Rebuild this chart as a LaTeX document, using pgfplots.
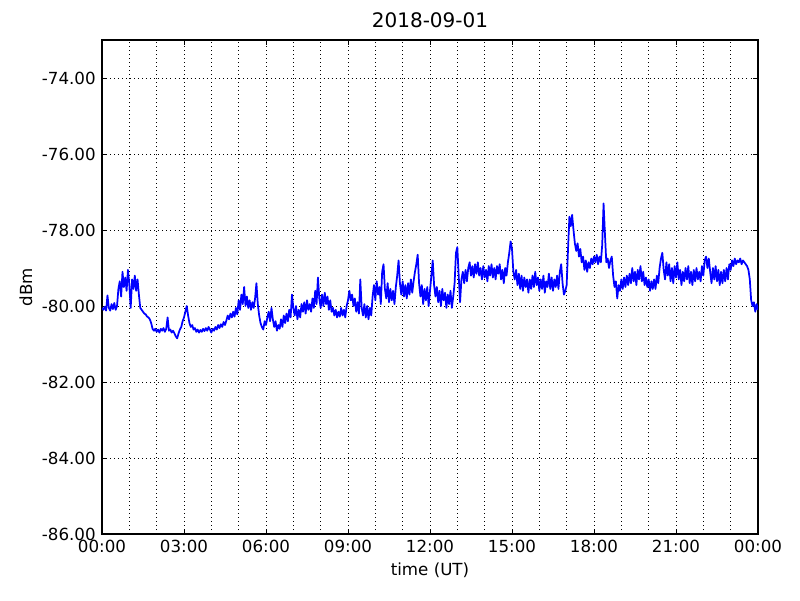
\documentclass[border=0pt]{standalone}
\usepackage{fontspec}
\setmainfont{DejaVu Sans}
\usepackage{pgfplots}
\pgfplotsset{compat=1.18}
\begin{document}
\begin{tikzpicture}
\begin{axis}[
  name=ax,
  scale only axis,
  width=472.3pt, height=355.7pt,
  xmin=0, xmax=24, ymin=-86, ymax=-73,
  axis line style={line width=0.8pt, black},
  xtick={0,3,6,9,12,15,18,21,24},
  xticklabels={00:00,03:00,06:00,09:00,12:00,15:00,18:00,21:00,00:00},
  minor xtick={1,2,4,5,7,8,10,11,13,14,16,17,19,20,22,23},
  ytick={-86,-84,-82,-80,-78,-76,-74},
  yticklabels={-86.00,-84.00,-82.00,-80.00,-78.00,-76.00,-74.00},
  tick align=inside,
  major tick length=3.5pt,
  minor tick length=0pt,
  tick style={black, line width=0.6pt},
  xmajorgrids, ymajorgrids, xminorgrids,
  major grid style={black, line width=0.5pt, dash pattern=on 0.7pt off 2.2pt},
  minor grid style={black, line width=0.5pt, dash pattern=on 0.7pt off 2.2pt},
  ticklabel style={font=\fontsize{12}{14}\selectfont},
  label style={font=\fontsize{12}{14}\selectfont},
  title style={font=\fontsize{14.4}{17}\selectfont, yshift=-1pt},
  title={2018-09-01},
  xlabel={time (UT)},
  ylabel={dBm},
  xticklabel style={yshift=-1pt},
  yticklabel style={xshift=-1pt},
]
\addplot[color={rgb,1:red,0;green,0;blue,1}, line width=1.25pt, line join=round, mark=none] coordinates {
(0.00,-80.05)(0.05,-80.10)(0.10,-80.02)(0.15,-80.12)(0.20,-79.72)(0.25,-80.05)(0.30,-80.12)(0.35,-79.95)(0.40,-80.08)(0.45,-79.92)
(0.50,-80.10)(0.55,-80.00)(0.60,-79.55)(0.65,-79.35)(0.70,-79.75)(0.75,-79.10)(0.80,-79.50)(0.85,-79.25)(0.90,-79.60)(0.95,-79.05)
(1.00,-79.45)(1.05,-80.05)(1.10,-79.30)(1.15,-79.55)(1.20,-79.20)(1.25,-79.60)(1.30,-79.30)(1.35,-79.70)(1.40,-80.05)(1.45,-80.10)
(1.50,-80.15)(1.55,-80.20)(1.60,-80.22)(1.65,-80.28)(1.70,-80.30)(1.75,-80.35)(1.80,-80.45)(1.85,-80.60)(1.90,-80.65)(1.95,-80.60)
(2.00,-80.68)(2.05,-80.62)(2.10,-80.70)(2.15,-80.60)(2.20,-80.65)(2.25,-80.58)(2.30,-80.68)(2.35,-80.60)(2.40,-80.30)(2.45,-80.65)
(2.50,-80.62)(2.55,-80.70)(2.60,-80.65)(2.65,-80.72)(2.70,-80.80)(2.75,-80.85)(2.80,-80.72)(2.85,-80.62)(2.90,-80.55)(2.95,-80.40)
(3.00,-80.30)(3.05,-80.15)(3.10,-80.00)(3.15,-80.25)(3.20,-80.45)(3.25,-80.55)(3.30,-80.50)(3.35,-80.62)(3.40,-80.58)(3.45,-80.68)
(3.50,-80.62)(3.55,-80.70)(3.60,-80.63)(3.65,-80.68)(3.70,-80.60)(3.75,-80.66)(3.80,-80.58)(3.85,-80.65)(3.90,-80.55)(3.95,-80.62)
(4.00,-80.70)(4.05,-80.60)(4.10,-80.65)(4.15,-80.55)(4.20,-80.62)(4.25,-80.50)(4.30,-80.58)(4.35,-80.48)(4.40,-80.55)(4.45,-80.42)
(4.50,-80.50)(4.55,-80.38)(4.60,-80.25)(4.65,-80.35)(4.70,-80.20)(4.75,-80.30)(4.80,-80.15)(4.85,-80.28)(4.90,-80.05)(4.95,-80.22)
(5.00,-79.85)(5.05,-80.10)(5.10,-79.70)(5.15,-79.95)(5.20,-79.50)(5.25,-80.00)(5.30,-79.75)(5.35,-80.05)(5.40,-79.85)(5.45,-80.10)
(5.50,-79.90)(5.55,-80.05)(5.60,-79.80)(5.65,-79.40)(5.70,-79.95)(5.75,-80.25)(5.80,-80.45)(5.85,-80.55)(5.90,-80.62)(5.95,-80.40)
(6.00,-80.50)(6.05,-80.30)(6.10,-80.15)(6.15,-80.40)(6.20,-80.05)(6.25,-80.35)(6.30,-80.55)(6.35,-80.40)(6.40,-80.65)(6.45,-80.50)
(6.50,-80.60)(6.55,-80.35)(6.60,-80.55)(6.65,-80.25)(6.70,-80.45)(6.75,-80.20)(6.80,-80.40)(6.85,-80.10)(6.90,-80.30)(6.95,-79.70)
(7.00,-80.05)(7.05,-80.25)(7.10,-80.00)(7.15,-80.35)(7.20,-80.10)(7.25,-80.30)(7.30,-79.95)(7.35,-80.15)(7.40,-79.90)(7.45,-80.20)
(7.50,-79.85)(7.55,-80.10)(7.60,-79.95)(7.65,-80.15)(7.70,-79.80)(7.75,-80.05)(7.80,-79.60)(7.85,-79.95)(7.90,-79.25)(7.95,-79.80)
(8.00,-80.05)(8.05,-79.70)(8.10,-80.00)(8.15,-79.65)(8.20,-79.95)(8.25,-79.75)(8.30,-80.10)(8.35,-79.85)(8.40,-80.15)(8.45,-80.05)
(8.50,-80.25)(8.55,-80.10)(8.60,-80.30)(8.65,-80.15)(8.70,-80.28)(8.75,-80.05)(8.80,-80.25)(8.85,-80.10)(8.90,-80.30)(8.95,-80.00)
(9.00,-79.85)(9.05,-79.60)(9.10,-79.85)(9.15,-79.70)(9.20,-80.00)(9.25,-79.80)(9.30,-80.15)(9.35,-79.90)(9.40,-80.20)(9.45,-79.30)
(9.50,-80.05)(9.55,-80.25)(9.60,-79.95)(9.65,-80.30)(9.70,-80.00)(9.75,-80.35)(9.80,-80.05)(9.85,-80.25)(9.90,-79.75)(9.95,-79.45)
(10.00,-79.85)(10.05,-79.35)(10.10,-79.70)(10.15,-79.50)(10.20,-79.95)(10.25,-79.10)(10.30,-78.90)(10.35,-79.55)(10.40,-79.80)(10.45,-79.40)
(10.50,-79.90)(10.55,-79.55)(10.60,-79.85)(10.65,-79.60)(10.70,-79.95)(10.75,-79.50)(10.80,-79.20)(10.85,-78.80)(10.90,-79.40)(10.95,-79.70)
(11.00,-79.35)(11.05,-79.75)(11.10,-79.45)(11.15,-79.80)(11.20,-79.40)(11.25,-79.70)(11.30,-79.30)(11.35,-79.65)(11.40,-79.35)(11.45,-79.10)
(11.50,-78.90)(11.55,-78.65)(11.60,-79.40)(11.65,-79.75)(11.70,-79.45)(11.75,-79.95)(11.80,-79.55)(11.85,-79.85)(11.90,-79.50)(11.95,-80.00)
(12.00,-79.60)(12.05,-79.20)(12.10,-78.80)(12.15,-79.45)(12.20,-79.75)(12.25,-79.50)(12.30,-79.90)(12.35,-79.60)(12.40,-80.00)(12.45,-79.55)
(12.50,-79.85)(12.55,-79.65)(12.60,-80.05)(12.65,-79.70)(12.70,-79.95)(12.75,-79.60)(12.80,-80.05)(12.85,-79.75)(12.90,-79.40)(12.95,-78.60)
(13.00,-78.45)(13.05,-79.20)(13.10,-79.90)(13.15,-79.30)(13.20,-79.10)(13.25,-79.40)(13.30,-79.05)(13.35,-79.35)(13.40,-79.00)(13.45,-78.85)
(13.50,-79.20)(13.55,-78.95)(13.60,-79.25)(13.65,-78.90)(13.70,-79.15)(13.75,-78.85)(13.80,-79.20)(13.85,-79.00)(13.90,-79.30)(13.95,-78.95)
(14.00,-79.25)(14.05,-79.05)(14.10,-79.35)(14.15,-78.95)(14.20,-79.20)(14.25,-78.90)(14.30,-79.25)(14.35,-79.00)(14.40,-79.30)(14.45,-78.95)
(14.50,-79.15)(14.55,-78.90)(14.60,-79.30)(14.65,-79.05)(14.70,-79.40)(14.75,-79.00)(14.80,-79.20)(14.85,-78.85)(14.90,-78.60)(14.95,-78.30)
(15.00,-78.50)(15.05,-79.10)(15.10,-79.30)(15.15,-79.05)(15.20,-79.45)(15.25,-79.15)(15.30,-79.55)(15.35,-79.20)(15.40,-79.60)(15.45,-79.25)
(15.50,-79.50)(15.55,-79.30)(15.60,-79.65)(15.65,-79.30)(15.70,-79.55)(15.75,-79.20)(15.80,-79.50)(15.85,-79.10)(15.90,-79.45)(15.95,-79.25)
(16.00,-79.60)(16.05,-79.30)(16.10,-79.55)(16.15,-79.20)(16.20,-79.65)(16.25,-79.35)(16.30,-79.50)(16.35,-79.15)(16.40,-79.55)(16.45,-79.25)
(16.50,-79.60)(16.55,-79.30)(16.60,-79.50)(16.65,-79.20)(16.70,-79.55)(16.75,-79.10)(16.80,-78.90)(16.85,-79.40)(16.90,-79.70)(16.95,-79.60)
(17.00,-79.45)(17.05,-78.50)(17.10,-77.65)(17.15,-77.90)(17.20,-77.60)(17.25,-78.00)(17.30,-78.35)(17.35,-78.55)(17.40,-78.35)(17.45,-78.70)
(17.50,-78.50)(17.55,-78.85)(17.60,-78.70)(17.65,-79.05)(17.70,-78.80)(17.75,-79.10)(17.80,-78.85)(17.85,-79.00)(17.90,-78.75)(17.95,-78.90)
(18.00,-78.70)(18.05,-78.85)(18.10,-78.65)(18.15,-78.90)(18.20,-78.70)(18.25,-78.85)(18.30,-78.40)(18.35,-77.30)(18.40,-78.10)(18.45,-78.85)
(18.50,-78.75)(18.55,-79.00)(18.60,-78.80)(18.65,-78.70)(18.70,-79.20)(18.75,-79.50)(18.80,-79.35)(18.85,-79.80)(18.90,-79.45)(18.95,-79.60)
(19.00,-79.30)(19.05,-79.55)(19.10,-79.25)(19.15,-79.50)(19.20,-79.20)(19.25,-79.45)(19.30,-79.15)(19.35,-79.40)(19.40,-79.00)(19.45,-79.35)
(19.50,-79.10)(19.55,-79.45)(19.60,-79.05)(19.65,-79.30)(19.70,-78.95)(19.75,-79.35)(19.80,-79.10)(19.85,-79.45)(19.90,-79.25)(19.95,-79.50)
(20.00,-79.30)(20.05,-79.60)(20.10,-79.35)(20.15,-79.55)(20.20,-79.30)(20.25,-79.55)(20.30,-79.20)(20.35,-79.40)(20.40,-79.00)(20.45,-78.75)
(20.50,-78.60)(20.55,-79.05)(20.60,-79.30)(20.65,-78.85)(20.70,-79.20)(20.75,-78.90)(20.80,-79.35)(20.85,-79.00)(20.90,-79.40)(20.95,-78.95)
(21.00,-79.25)(21.05,-78.85)(21.10,-79.30)(21.15,-79.05)(21.20,-79.45)(21.25,-79.10)(21.30,-79.35)(21.35,-79.00)(21.40,-79.30)(21.45,-78.95)
(21.50,-79.40)(21.55,-79.10)(21.60,-79.45)(21.65,-79.05)(21.70,-79.35)(21.75,-79.00)(21.80,-79.30)(21.85,-79.10)(21.90,-79.35)(21.95,-78.95)
(22.00,-79.20)(22.05,-78.80)(22.10,-78.70)(22.15,-79.00)(22.20,-78.75)(22.25,-79.10)(22.30,-79.40)(22.35,-79.00)(22.40,-79.30)(22.45,-78.95)
(22.50,-79.35)(22.55,-79.05)(22.60,-79.45)(22.65,-79.10)(22.70,-79.40)(22.75,-79.05)(22.80,-79.35)(22.85,-79.00)(22.90,-79.30)(22.95,-78.90)
(23.00,-79.05)(23.05,-78.80)(23.10,-78.95)(23.15,-78.75)(23.20,-78.90)(23.25,-78.80)(23.30,-78.85)(23.35,-78.75)(23.40,-78.90)(23.45,-78.80)
(23.50,-78.85)(23.55,-78.90)(23.60,-78.95)(23.65,-79.05)(23.70,-79.30)(23.75,-79.85)(23.80,-80.00)(23.85,-79.90)(23.90,-80.15)(23.95,-79.95)
(24.00,-80.10)
};
\end{axis}
\path[use as bounding box] ([shift={(-73.44pt,-47.52pt)}]ax.south west) rectangle ([shift={(30.24pt,28.8pt)}]ax.north east);
\end{tikzpicture}
\end{document}
